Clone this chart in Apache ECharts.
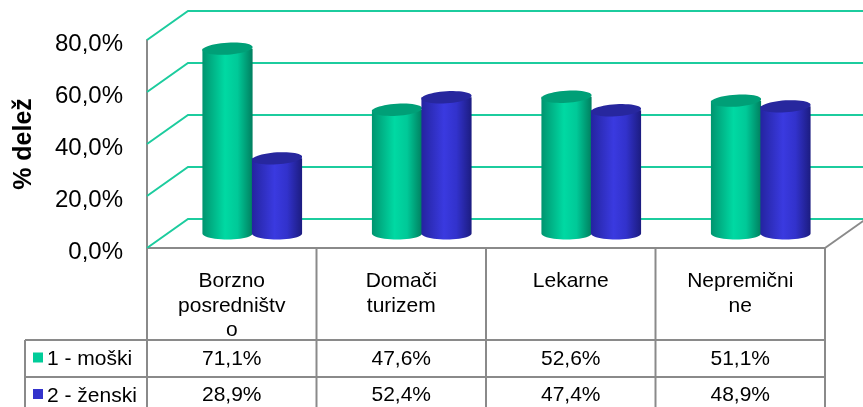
<!DOCTYPE html>
<html>
<head>
<meta charset="utf-8">
<script src="https://cdn.jsdelivr.net/npm/echarts@6/dist/echarts.min.js"></script>
<style>
  html, body { margin: 0; padding: 0; background: #fff; }
  #container { width: 863px; height: 407px; }
</style>
</head>
<body>
<div id="container"></div>
<script>
// data
const categories = ['Borzno\nposredništv\no', 'Domači\nturizem', 'Lekarne', 'Nepremični\nne'];
const seriesNames = ['1 - moški', '2 - ženski'];
const male = [71.1, 47.6, 52.6, 51.1];
const female = [28.9, 52.4, 47.4, 48.9];
const yTicks = [0, 20, 40, 60, 80];

// oblique depth of the 3d box
const DEPTH_X = 41;
const DEPTH_Y = -29;
const FONT = 'Liberation Sans, Arial, sans-serif';

const lineGray = '#8a8a8a';
const gridTeal = '#1ccc9e';

const seriesColors = [
  { stops: ['#00946f', '#00d9a3', '#00c998', '#007f5f'], cap: '#009f77', key: '#00cc99' },
  { stops: ['#2424a0', '#3a3ae0', '#3232cc', '#1c1c80'], cap: '#27279e', key: '#3333cc' }
];

function fmt(v) {
  return v.toFixed(1).replace('.', ',') + '%';
}

let dom = document.getElementById('container');
let myChart = echarts.init(dom);

// back wall / side wall grid lines
function renderWall(params, api) {
  let cs = params.coordSys;
  let y = api.coord([0, api.value(1)])[1];
  let x0 = cs.x;
  return {
    type: 'polyline',
    shape: { points: [[x0, y], [x0 + DEPTH_X, y + DEPTH_Y], [cs.x + cs.width + DEPTH_X + 5, y + DEPTH_Y]] },
    style: { stroke: gridTeal, lineWidth: 2, fill: null }
  };
}

function makeCylinder(idx) {
  return function (params, api) {
    let c = api.value(0);
    let v = api.value(1);
    let base = api.coord([c, 0]);
    let top = api.coord([c, v]);
    let band = api.size([1, 0])[0];
    let r = band * 0.148;
    let cx = base[0] + DEPTH_X / 2 + (idx === 0 ? -1 : 1) * band * 0.146;
    let by = base[1] + DEPTH_Y / 2;
    let ty = top[1] + DEPTH_Y / 2;
    let ry = 6;
    let body = [[cx - r, ty]];
    for (let i = 0; i <= 24; i++) {
      let a = Math.PI - Math.PI * i / 24;
      body.push([cx + r * Math.cos(a), by + ry * Math.sin(a)]);
    }
    body.push([cx + r, ty]);
    let cap = [];
    for (let i = 0; i < 48; i++) {
      let a = 2 * Math.PI * i / 48;
      cap.push([cx + r * Math.cos(a), ty + ry * Math.sin(a) - 1.5 * Math.cos(a)]);
    }
    let s = seriesColors[idx].stops;
    return {
      type: 'group',
      children: [{
        type: 'polygon',
        shape: { points: body },
        style: {
          fill: new echarts.graphic.LinearGradient(0, 0, 1, 0, [
            { offset: 0, color: s[0] },
            { offset: 0.45, color: s[1] },
            { offset: 0.7, color: s[2] },
            { offset: 1, color: s[3] }
          ])
        }
      }, {
        type: 'polygon',
        shape: { points: cap },
        style: { fill: seriesColors[idx].cap }
      }]
    };
  };
}

// data table under the plot
function renderTable(params, api) {
  let c = api.value(0);
  let base = api.coord([c, 0]);
  let band = api.size([1, 0])[0];
  let x0 = base[0] - band / 2;
  let x1 = base[0] + band / 2;
  let y0 = base[1];
  let yH = y0 + 92;
  let yR1 = yH + 37;
  let yEnd = yR1 + 45;
  let ls = { stroke: lineGray, lineWidth: 2 };
  let kids = [
    { type: 'line', shape: { x1: x1, y1: y0, x2: x1, y2: yEnd }, style: ls },
    { type: 'line', shape: { x1: x0, y1: yH, x2: x1, y2: yH }, style: ls },
    { type: 'line', shape: { x1: x0, y1: yR1, x2: x1, y2: yR1 }, style: ls },
    { type: 'text', x: base[0], y: (yH + yR1) / 2 + 1, style: { text: fmt(api.value(1)), font: '21px ' + FONT, fill: '#000', align: 'center', verticalAlign: 'middle' } },
    { type: 'text', x: base[0], y: yR1 + 18, style: { text: fmt(api.value(2)), font: '21px ' + FONT, fill: '#000', align: 'center', verticalAlign: 'middle' } }
  ];
  if (c === 0) {
    let lx = 25;
    kids.push(
      { type: 'line', shape: { x1: x0, y1: y0, x2: x0, y2: yEnd }, style: ls },
      { type: 'line', shape: { x1: lx, y1: yH, x2: lx, y2: yEnd }, style: ls },
      { type: 'line', shape: { x1: lx, y1: yH, x2: x0, y2: yH }, style: ls },
      { type: 'line', shape: { x1: lx, y1: yR1, x2: x0, y2: yR1 }, style: ls }
    );
    seriesNames.forEach(function (name, i) {
      let cy = (i === 0 ? (yH + yR1) / 2 : yR1 + 18);
      kids.push(
        { type: 'rect', shape: { x: lx + 8, y: cy - 6, width: 10, height: 10 }, style: { fill: seriesColors[i].key } },
        { type: 'text', x: lx + 22, y: cy + 1, style: { text: name, font: '21px ' + FONT, fill: '#000', align: 'left', verticalAlign: 'middle' } }
      );
    });
  }
  if (c === categories.length - 1) {
    kids.push({ type: 'line', shape: { x1: x1, y1: y0, x2: x1 + DEPTH_X, y2: y0 + DEPTH_Y }, style: ls });
  }
  return { type: 'group', children: kids };
}

let option = {
  animation: false,
  grid: { left: 147, right: 38, top: 40, bottom: 159 },
  xAxis: {
    type: 'category',
    data: categories,
    axisLine: { show: true, lineStyle: { color: lineGray, width: 2 } },
    axisTick: { show: false },
    splitLine: { show: false },
    axisLabel: { interval: 0, margin: 21, fontSize: 21, lineHeight: 24.5, color: '#000', fontFamily: FONT }
  },
  yAxis: {
    type: 'value',
    min: 0,
    max: 80,
    interval: 20,
    name: '% delež',
    nameLocation: 'middle',
    nameRotate: 90,
    nameGap: 110,
    nameTextStyle: { fontSize: 25, fontWeight: 'bold', color: '#000', fontFamily: FONT },
    axisLine: { show: true, lineStyle: { color: lineGray, width: 2 } },
    axisTick: { show: false },
    splitLine: { show: false },
    axisLabel: { formatter: function (v) { return fmt(v); }, fontSize: 24, margin: 24, verticalAlign: 'top', lineHeight: 9, color: '#000', fontFamily: FONT }
  },
  series: [{
    type: 'custom',
    name: 'wall',
    renderItem: renderWall,
    encode: { x: 0, y: 1 },
    data: yTicks.map(function (v) { return [0, v]; }),
    z: 1,
    silent: true
  }, {
    type: 'custom',
    name: seriesNames[0],
    renderItem: makeCylinder(0),
    encode: { x: 0, y: 1 },
    data: male.map(function (v, i) { return [i, v]; }),
    z: 3
  }, {
    type: 'custom',
    name: seriesNames[1],
    renderItem: makeCylinder(1),
    encode: { x: 0, y: 1 },
    data: female.map(function (v, i) { return [i, v]; }),
    z: 4
  }, {
    type: 'custom',
    name: 'table',
    renderItem: renderTable,
    encode: { x: 0, y: 1 },
    data: categories.map(function (n, i) { return [i, male[i], female[i]]; }),
    z: 5,
    silent: true
  }]
};

myChart.setOption(option);
</script>
</body>
</html>
